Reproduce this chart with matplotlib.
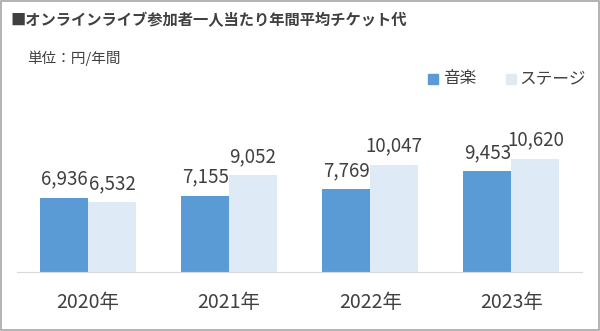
import numpy as np
import matplotlib
matplotlib.use("Agg")
import matplotlib.pyplot as plt
from matplotlib.patches import Rectangle

plt.rcParams['font.family'] = ['Noto Sans CJK JP', 'DejaVu Sans']

years = ['2020年', '2021年', '2022年', '2023年']
music = [6936, 7155, 7769, 9453]
stage = [6532, 9052, 10047, 10620]
series_names = ['音楽', 'ステージ']
title = '■オンラインライブ参加者一人当たり年間平均チケット代'
unit = '単位：円/年間'

c_music = '#5b9bd5'
c_stage = '#deebf7'
txt = '#404040'

fig = plt.figure(figsize=(6.0, 3.31), dpi=100)
ax = fig.add_axes([0.029, 0.178, 0.941, 0.387])

x = np.arange(len(years))
w = 0.34
b1 = ax.bar(x - w / 2, music, w, color=c_music)
b2 = ax.bar(x + w / 2, stage, w, color=c_stage)

for bars in (b1, b2):
    for r in bars:
        v = r.get_height()
        ax.annotate(f'{v:,}', (r.get_x() + r.get_width() / 2, v),
                    xytext=(0, 6), textcoords='offset points',
                    ha='center', va='bottom', fontsize=13.5, color=txt)

ax.set_xlim(-0.5, 3.5)
ax.set_ylim(0, 12000)
ax.set_xticks(x)
ax.set_xticklabels(years, fontsize=14, color=txt)
ax.tick_params(axis='x', length=0, pad=14)
ax.set_yticks([])
for s in ['top', 'right', 'left']:
    ax.spines[s].set_visible(False)
ax.spines['bottom'].set_color('#d9d9d9')

fig.text(0.018, 0.94, title, fontsize=11, fontweight='bold', color=txt,
         va='center', ha='left')
fig.text(0.045, 0.825, unit, fontsize=10.5, color=txt, va='center', ha='left')

# legend
fig.patches.append(Rectangle((0.713, 0.745), 0.017, 0.031, color=c_music,
                             transform=fig.transFigure, figure=fig))
fig.text(0.738, 0.762, series_names[0], fontsize=12, color=txt, va='center')
fig.patches.append(Rectangle((0.843, 0.745), 0.017, 0.031, color=c_stage,
                             transform=fig.transFigure, figure=fig))
fig.text(0.866, 0.762, series_names[1], fontsize=12, color=txt, va='center')

fig.patches.append(Rectangle((0.001, 0.002), 0.997, 0.995, fill=False,
                             edgecolor='#a6a6a6', linewidth=1.2,
                             transform=fig.transFigure, figure=fig))

fig.savefig('out.png', dpi=100, facecolor='white')
